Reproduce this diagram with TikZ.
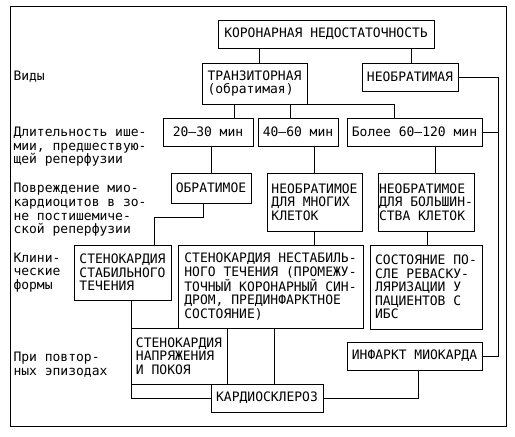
\documentclass[tikz,border=0pt]{standalone}
\usepackage{fontspec}
\usepackage{tikz}
\setmonofont{DejaVu Sans Mono}

\begin{document}
\begin{tikzpicture}[x=1pt, y=-1pt, line width=1pt,
    bx/.style={draw, rectangle, inner sep=0pt, align=left, font=\ttfamily\fontsize{13}{13.6}\selectfont},
    lbl/.style={inner sep=0pt, align=left, anchor=west, font=\ttfamily\fontsize{13}{13.6}\selectfont}]
      %\draw [help lines, step=50] (0,0) grid (515,437);
      \useasboundingbox (0,0) rectangle (515,437);
      \draw (10,6) rectangle (506,426);
      \node [lbl]  (vid) at (13,  77.0) {Виды};
      \node [lbl] (dlit) at (13, 147.0) {Длительность ише-\\мии, предшествую-\\щей реперфузии};
      \node [lbl] (povr) at (13, 210.0) {Повреждение мио-\\кардиоцитов в зо-\\не постишемиче-\\ской реперфузии};
      \node [lbl] (klin) at (13, 272.5) {Клини-\\ческие\\формы};
      \node [lbl] (povt) at (13, 364.5) {При повтор-\\ных эпизодах};
      \node [bx, minimum width=216pt, minimum height=28pt] (kn) at (326.0,  34.0) {КОРОНАРНАЯ НЕДОСТАТОЧНОСТЬ};
      \node [bx, minimum width=105pt, minimum height=41pt] (tr) at (254.5,  83.5) {ТРАНЗИТОРНАЯ\\(обратимая)};
      \node [bx, minimum width=96pt,  minimum height=28pt] (ne) at (410.0,  77.0) {НЕОБРАТИМАЯ};
      \node [bx, minimum width=90pt,  minimum height=28pt] (d1) at (208.0, 132.0) {20–30 мин};
      \node [bx, minimum width=80pt,  minimum height=28pt] (d2) at (298.0, 132.0) {40–60 мин};
      \node [bx, minimum width=135pt, minimum height=28pt] (d3) at (414.5, 132.0) {Более 60–120 мин};
      \node [bx, minimum width=80pt,  minimum height=30pt] (p1) at (211.0, 188.0) {ОБРАТИМОЕ};
      \node [bx, minimum width=95pt,  minimum height=58pt] (p2) at (314.5, 202.0) {НЕОБРАТИМОЕ\\ДЛЯ МНОГИХ\\КЛЕТОК};
      \node [bx, minimum width=96pt,  minimum height=58pt] (p3) at (426.0, 202.0) {НЕОБРАТИМОЕ\\ДЛЯ БОЛЬШИН-\\СТВА КЛЕТОК};
      \node [bx, minimum width=97pt,  minimum height=55pt] (f1) at (122.5, 272.5) {СТЕНОКАРДИЯ\\СТАБИЛЬНОГО\\ТЕЧЕНИЯ};
      \node [bx, minimum width=185pt, minimum height=83pt] (f2) at (270.5, 286.5) {СТЕНОКАРДИЯ НЕСТАБИЛЬ-\\НОГО ТЕЧЕНИЯ (ПРОМЕЖУ-\\ТОЧНЫЙ КОРОНАРНЫЙ СИН-\\ДРОМ, ПРЕДИНФАРКТНОЕ\\СОСТОЯНИЕ)};
      \node [bx, minimum width=112pt, minimum height=84pt] (f3) at (426.0, 287.0) {СОСТОЯНИЕ ПО-\\СЛЕ РЕВАСКУ-\\ЛЯРИЗАЦИИ У\\ПАЦИЕНТОВ С\\ИБС};
      \node [bx, minimum width=96pt,  minimum height=56pt] (r1) at (179.0, 356.0) {СТЕНОКАРДИЯ\\НАПРЯЖЕНИЯ\\И ПОКОЯ};
      \node [bx, minimum width=135pt, minimum height=28pt] (r2) at (414.5, 356.0) {ИНФАРКТ МИОКАРДА};
      \node [bx, minimum width=112pt, minimum height=28pt] (ks) at (267.0, 398.0) {КАРДИОСКЛЕРОЗ};
      \draw ([xshift=4.5]tr.north) -- ([xshift=-67]kn.south);
      \draw ([xshift=1]ne.north) -- ([xshift=85]kn.south);
      \draw ([xshift=-20.5]tr.south) -- ([xshift=26]d1.north);
      \draw ([xshift=35.5]tr.south) -- ([xshift=-8]d2.north);
      \draw (tr.south east) -| ([xshift=-20.5]d3.north);
      \draw (ne.east) -- ++(40,0) |- (r2.east);
      \draw (d3.east) -- ++(16,0);
      \draw ([xshift=3]d1.south) -- (p1.north);
      \draw ([xshift=16]d2.south) -- ([xshift=-0.5]p2.north);
      \draw ([xshift=20.5]d3.south) -- ([xshift=9]p3.north);
      \draw ([xshift=-8]p1.south) -- ++(0,14) -| ([xshift=31.5]f1.north);
      \draw ([xshift=-0.5]p2.south) -- ([xshift=43.5]f2.north);
      \draw ([xshift=1]p3.south) -- ([xshift=1]f3.north);
      \draw ([xshift=8.5]f1.south) |- (ks.west);
      \draw ([xshift=3.5]f2.south) -- ([xshift=7]ks.north);
      \draw (ks.east) -| ([xshift=3.5]r2.south);
\end{tikzpicture}
\end{document}
